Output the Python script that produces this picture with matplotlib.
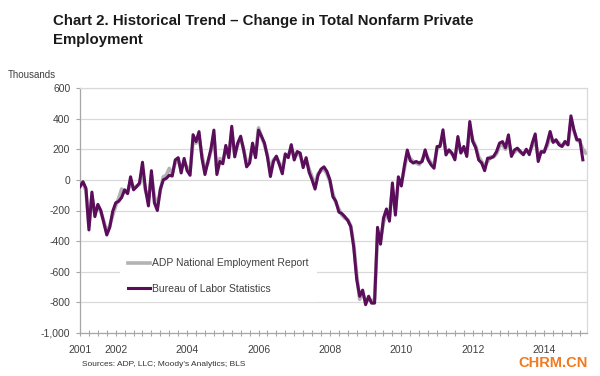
"""
Chart 2 - historical trend, change in total nonfarm private employment.
ADP vs BLS monthly changes, Jan 2001 onwards.
"""

import matplotlib
matplotlib.use("Agg")
import matplotlib.pyplot as plt
from matplotlib.ticker import FixedLocator, MultipleLocator

# ── Data (thousands, monthly change) ──────────────────────────────────
BLS_2001 = [-45, -12, -55, -327, -80, -240, -160, -200, -280, -360, -310, -205]
BLS_2002 = [-150, -140, -115, -65, -90, 20, -65, -45, -20, 115, -60, -170]
BLS_2003 = [60, -150, -200, -60, 0, 10, 30, 25, 130, 145, 45, 140]
BLS_2004 = [60, 30, 295, 250, 315, 140, 35, 120, 200, 325, 35, 120]
BLS_2005 = [105, 225, 145, 350, 150, 240, 285, 195, 85, 110, 240, 145]
BLS_2006 = [325, 285, 240, 150, 22, 120, 155, 100, 40, 170, 145, 230]
BLS_2007 = [130, 185, 175, 80, 145, 50, 0, -60, 30, 70, 85, 55]
BLS_2008 = [0, -110, -140, -210, -220, -240, -265, -305, -440, -650, -760, -720]
BLS_2009 = [-815, -760, -805, -805, -310, -420, -250, -190, -270, -20, -230, 20]
BLS_2010 = [-40, 90, 195, 125, 110, 120, 110, 120, 196, 130, 98, 76]
BLS_2011 = [218, 218, 327, 163, 196, 175, 131, 283, 175, 218, 153, 381]
BLS_2012 = [251, 210, 130, 110, 60, 142, 142, 153, 185, 240, 250, 210]
BLS_2013 = [294, 153, 195, 207, 185, 164, 200, 165, 240, 300, 120, 185]
BLS_2014 = [180, 240, 316, 245, 262, 229, 218, 251, 229, 418, 327, 262]
BLS_2015 = [262, 131]

ADP_2001 = [-30, -20, -70, -300, -110, -220, -170, -210, -270, -340, -300, -230]
ADP_2002 = [-170, -120, -60, -75, -80, -10, -55, -40, -30, 60, -70, -130]
ADP_2003 = [30, -110, -170, -70, 20, 30, 75, 40, 110, 130, 70, 120]
ADP_2004 = [80, 60, 250, 240, 280, 160, 70, 110, 190, 290, 60, 140]
ADP_2005 = [120, 200, 170, 310, 170, 230, 270, 200, 110, 120, 220, 160]
ADP_2006 = [340, 280, 230, 160, 60, 130, 150, 110, 70, 160, 160, 210]
ADP_2007 = [150, 170, 160, 100, 130, 70, 20, -30, 40, 60, 70, 40]
ADP_2008 = [-10, -90, -150, -190, -230, -250, -260, -300, -420, -620, -780, -740]
ADP_2009 = [-790, -780, -790, -780, -360, -390, -280, -220, -240, -60, -200, -10]
ADP_2010 = [-20, 70, 170, 140, 120, 110, 100, 130, 170, 140, 110, 100]
ADP_2011 = [200, 230, 280, 190, 190, 170, 150, 250, 180, 200, 170, 330]
ADP_2012 = [260, 220, 150, 120, 90, 120, 150, 150, 170, 220, 230, 200]
ADP_2013 = [260, 170, 180, 200, 180, 170, 190, 180, 220, 260, 150, 180]
ADP_2014 = [190, 220, 280, 250, 250, 240, 220, 240, 230, 380, 320, 260]
ADP_2015 = [250, 200, 175]

BLS = (BLS_2001 + BLS_2002 + BLS_2003 + BLS_2004 + BLS_2005 + BLS_2006 +
       BLS_2007 + BLS_2008 + BLS_2009 + BLS_2010 + BLS_2011 + BLS_2012 +
       BLS_2013 + BLS_2014 + BLS_2015)
ADP = (ADP_2001 + ADP_2002 + ADP_2003 + ADP_2004 + ADP_2005 + ADP_2006 +
       ADP_2007 + ADP_2008 + ADP_2009 + ADP_2010 + ADP_2011 + ADP_2012 +
       ADP_2013 + ADP_2014 + ADP_2015)

YEAR_LABELS = ["2001", "2002", "2004", "2006", "2008", "2010", "2012", "2014"]
YEAR_TICKS  = [0, 12, 36, 60, 84, 108, 132, 156]   # month index of January
Y_TICKS     = [600, 400, 200, 0, -200, -400, -600, -800, -1000]
Y_LABELS    = ["600", "400", "200", "0", "-200", "-400", "-600", "-800", "-1,000"]

# ── Style ─────────────────────────────────────────────────────────────
PURPLE = "#5b0d5b"
GRAY   = "#b3b3b3"
GRID   = "#d9d9d9"
AXIS   = "#a6a6a6"
TXT    = "#404040"
plt.rcParams["font.family"] = ["Liberation Sans", "DejaVu Sans"]

fig = plt.figure(figsize=(6, 3.76), dpi=100)
ax = fig.add_axes([80 / 600, 43 / 376, 507 / 600, 245 / 376])

ax.plot(range(len(ADP)), ADP, color=GRAY, lw=2.6, solid_joinstyle="round",
        label="ADP National Employment Report", zorder=2)
ax.plot(range(len(BLS)), BLS, color=PURPLE, lw=2.2, solid_joinstyle="round",
        label="Bureau of Labor Statistics", zorder=3)

ax.set_xlim(0, 170.4)
ax.set_ylim(-1000, 600)

ax.yaxis.set_major_locator(FixedLocator(Y_TICKS))
ax.set_yticklabels(Y_LABELS)
ax.xaxis.set_major_locator(FixedLocator(YEAR_TICKS))
ax.set_xticklabels(YEAR_LABELS)
ax.xaxis.set_minor_locator(MultipleLocator(3))

ax.grid(axis="y", color=GRID, lw=0.9)
ax.set_axisbelow(True)
for side in ["top", "right"]:
    ax.spines[side].set_color(GRID)
    ax.spines[side].set_linewidth(0.9)
for side in ["left", "bottom"]:
    ax.spines[side].set_color(AXIS)
    ax.spines[side].set_linewidth(0.9)

ax.tick_params(axis="x", which="both", direction="inout", length=5,
               color=AXIS, width=0.8, labelsize=7.5, labelcolor=TXT, pad=6)
ax.tick_params(axis="y", direction="out", length=3, color=AXIS, width=0.8,
               labelsize=7.5, labelcolor=TXT, pad=4)

leg = ax.legend(loc="upper left", bbox_to_anchor=(0.079, 0.339),
                borderaxespad=0, frameon=True, fancybox=False,
                facecolor="white", edgecolor="none", framealpha=1,
                fontsize=7.5, handlelength=2.1, handletextpad=0.15,
                labelspacing=1.5, borderpad=0.8)
for t in leg.get_texts():
    t.set_color(TXT)

# ── Text ──────────────────────────────────────────────────────────────
fig.text(53 / 600, 1 - 14 / 376,
         "Chart 2. Historical Trend \u2013 Change in Total Nonfarm Private\nEmployment",
         fontsize=10.8, fontweight="bold", color="#1a1a1a", va="top", ha="left",
         linespacing=1.45)
fig.text(8 / 600, 1 - 75 / 376, "Thousands", fontsize=7, color=TXT,
         va="center", ha="left")
fig.text(82 / 600, 1 - 364 / 376, "Sources: ADP, LLC; Moody's Analytics; BLS",
         fontsize=6, color="#333333", va="center", ha="left")
fig.text(588 / 600, 1 - 363 / 376, "CHRM.CN", fontsize=10.5, fontweight="bold",
         color="#f07a1e", va="center", ha="right")

fig.savefig("out.png", dpi=100)
